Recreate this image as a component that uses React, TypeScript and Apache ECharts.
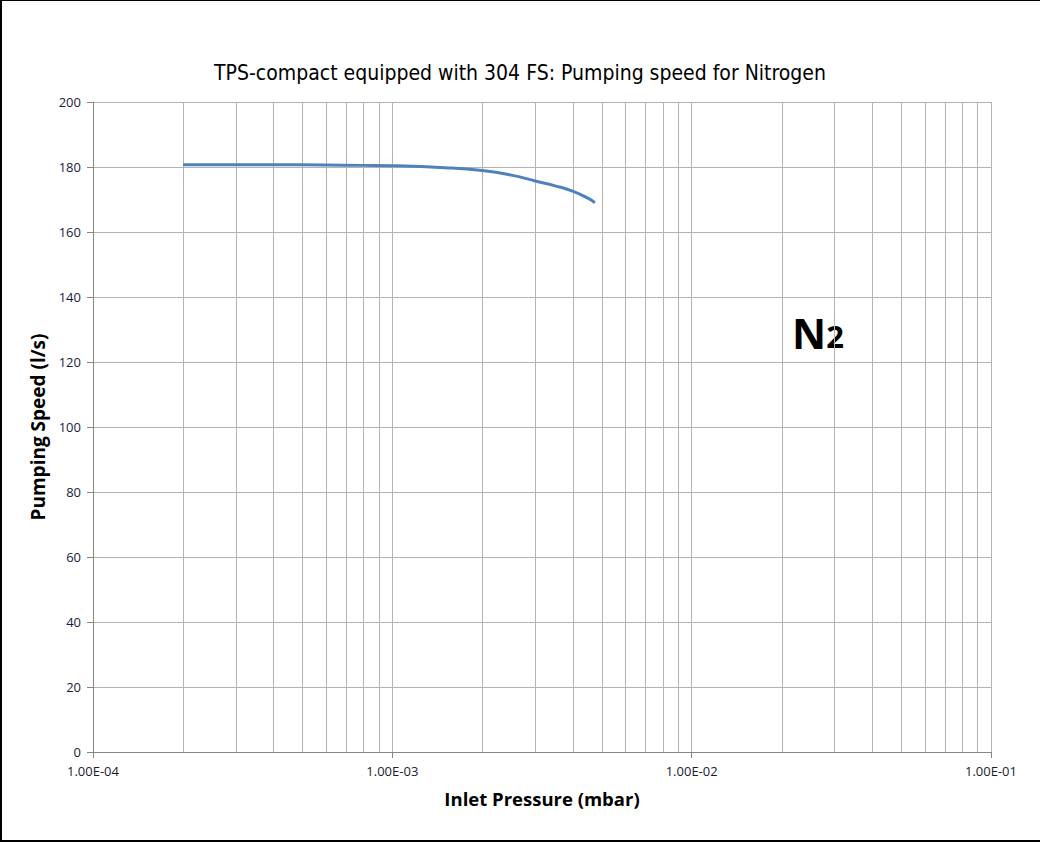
import React, { useEffect, useRef } from "react";
import * as echarts from "echarts";

const pressures = [2e-4, 4e-4, 6e-4, 8e-4, 1e-3, 1.5e-3, 2e-3, 2.5e-3, 3e-3, 3.5e-3, 4e-3, 4.5e-3, 4.75e-3];
const speeds = [180.7, 180.7, 180.6, 180.5, 180.4, 179.8, 178.9, 177.5, 175.7, 174.2, 172.6, 170.4, 169.0];
const minorMultipliers = [2, 3, 4, 5, 6, 7, 8, 9];
const decades = [1e-4, 1e-3, 1e-2];
const titleText = "TPS-compact equipped with 304 FS: Pumping speed for Nitrogen";

export default function App() {
  const ref = useRef<HTMLDivElement>(null);
  useEffect(() => {
    document.body.style.margin = "0";
    const chart = echarts.init(ref.current!, null, { renderer: "svg" });
    const gridColor = "#b3b3b3";
    const axisColor = "#868686";
    const minorGrid = decades.flatMap((d) => minorMultipliers.map((m) => m * d));
    chart.setOption({
      animation: false,
      backgroundColor: "transparent",
      title: {
        text: titleText,
        left: "center",
        top: 57,
        textStyle: {
          fontFamily: "'Liberation Sans Narrow', 'DejaVu Sans Condensed', 'Roboto Condensed', sans-serif",
          fontSize: 21,
          fontWeight: "normal",
          color: "#000",
        },
      },
      grid: { left: 93, right: 49, top: 102, bottom: 90, containLabel: false },
      xAxis: {
        type: "log",
        logBase: 10,
        min: 1e-4,
        max: 1e-1,
        name: "Inlet Pressure (mbar)",
        nameLocation: "middle",
        nameGap: 37,
        nameTextStyle: { fontFamily: "Open Sans", fontWeight: "bold", fontSize: 18.5, color: "#000" },
        axisLine: { show: true, lineStyle: { color: axisColor, width: 1 } },
        axisTick: { show: true, length: 6, lineStyle: { color: axisColor } },
        axisLabel: {
          margin: 12,
          fontFamily: "Open Sans",
          fontSize: 13,
          color: "#1a1a2e",
          formatter: (v: number) => {
            const e = Math.round(Math.log10(v));
            return "1.00E-" + String(-e).padStart(2, "0");
          },
        },
        splitLine: { show: true, lineStyle: { color: gridColor, width: 1 } },
      },
      yAxis: {
        type: "value",
        min: 0,
        max: 200,
        interval: 20,
        name: "Pumping Speed (l/s)",
        nameLocation: "middle",
        nameGap: 41,
        nameTextStyle: { fontFamily: "Open Sans", fontWeight: "bold", fontSize: 19, color: "#000" },
        axisLine: { show: true, lineStyle: { color: axisColor, width: 1 } },
        axisTick: { show: true, length: 6, lineStyle: { color: axisColor } },
        axisLabel: { margin: 12, fontFamily: "Open Sans", fontSize: 13, color: "#1a1a3e" },
        splitLine: { show: true, lineStyle: { color: gridColor, width: 1 } },
      },
      series: [
        {
          type: "custom",
          silent: true,
          z: 1,
          data: minorGrid.map((x) => [x]),
          encode: { x: 0 },
          renderItem: (params: any, api: any) => {
            const x = api.value(0);
            const p0 = api.coord([x, 0]);
            const p1 = api.coord([x, 200]);
            return {
              type: "line",
              shape: { x1: Math.round(p0[0]) + 0.5, y1: p0[1], x2: Math.round(p1[0]) + 0.5, y2: p1[1] },
              style: { stroke: gridColor, lineWidth: 1 },
            };
          },
        },
        {
          type: "line",
          data: pressures.map((p, i) => [p, speeds[i]]),
          smooth: true,
          showSymbol: false,
          lineStyle: { color: "#4f81bd", width: 3 },
          z: 5,
        },
      ],
      graphic: [
        {
          type: "text",
          left: 792,
          top: 311,
          style: {
            text: "{n|N}{s|2}",
            rich: {
              n: { fontFamily: "Open Sans", fontWeight: "bold", fontSize: 42, fill: "#000" },
              s: { fontFamily: "Open Sans", fontWeight: "bold", fontSize: 31, fill: "#000", padding: [8, 0, 0, 0] },
            },
          },
        },
      ],
    });
    return () => chart.dispose();
  }, []);
  return (
    <div
      style={{
        width: 1040,
        height: 842,
        boxSizing: "border-box",
        borderLeft: "2px solid #000",
        borderTop: "1px solid #000",
        borderBottom: "2px solid #000",
        position: "relative",
        background: "#fff",
      }}
    >
      <div ref={ref} style={{ position: "absolute", left: -2, top: -1, width: 1040, height: 842 }} />
    </div>
  );
}
